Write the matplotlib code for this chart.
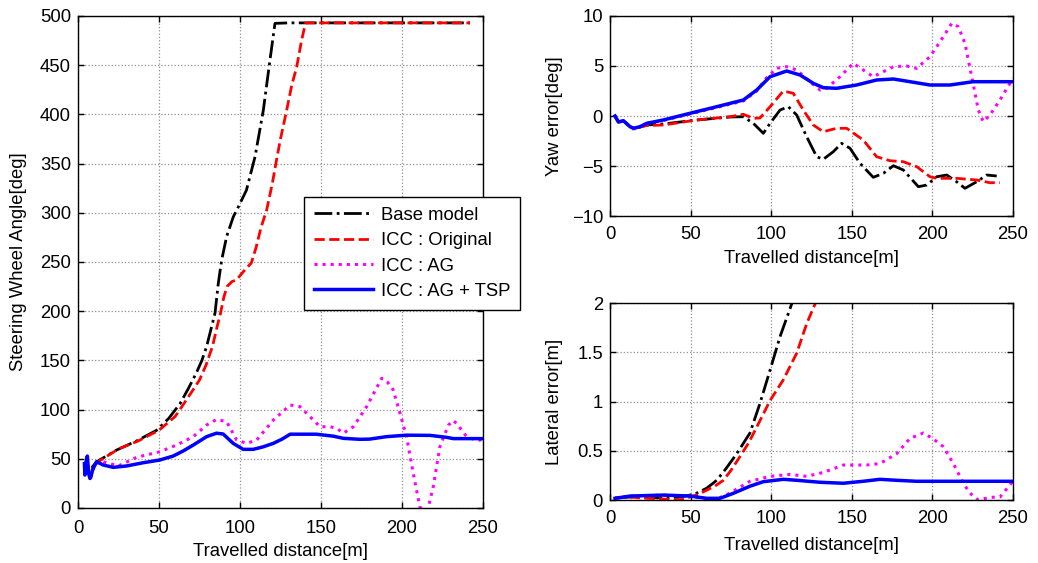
import matplotlib
matplotlib.use("Agg")
import matplotlib.pyplot as plt
from matplotlib.lines import Line2D

plt.rcParams['font.family'] = ['Liberation Sans', 'DejaVu Sans']

# ---------------- Steering wheel angle ----------------
sw_base_x = [4, 5, 6, 7, 8, 9, 11.5, 24, 36, 48.6, 56, 63, 68, 73, 76.5, 79.4, 82, 84.6, 86.6, 88.7, 91.8, 95.9, 99, 104, 109.3, 114.4, 118.5, 121.6, 130, 170, 210, 242]
sw_base = [40, 48, 44, 34, 38, 42, 47, 59, 68, 79, 91, 106, 121, 137, 150, 164, 181, 198, 228, 252, 276, 296, 306, 323, 357, 404, 455, 492.5, 493, 493, 493, 493]

sw_orig_x = [8, 9, 11.5, 25, 37, 50, 60, 67, 75, 79, 83, 86, 88, 90, 92, 95, 98, 102, 107, 110, 113, 116.5, 120, 122.6, 125, 128.8, 132, 135, 138, 140.5, 150, 200, 242]
sw_orig = [30, 40, 46, 60, 68, 79, 93, 110, 130, 145, 164, 185, 198, 214, 225, 230, 232, 240, 249, 265, 285, 303, 330, 354, 375, 404, 430, 448, 475, 493, 493, 493, 493]

sw_ag_x = [4, 4.5, 5.5, 6.5, 7.5, 9, 11.5, 15.6, 24.9, 36.2, 50.6, 60.9, 71.2, 79.4, 85.6, 91.8, 98, 104.1, 110.3, 120.6, 131, 137, 145.3, 149.4, 155.6, 159.7, 163.8, 170, 178.2, 187.5, 191, 194.6, 198.8, 202.8, 207, 211, 215, 219.3, 223.4, 228.6, 231.5, 233.7, 239.9, 244, 248, 250]
sw_ag = [33, 45, 52, 36, 30, 38, 46, 47, 42.7, 51.5, 57.2, 64, 72.5, 84.3, 90, 87.7, 69, 65.7, 69, 89.4, 104.7, 103, 89.4, 82.6, 82.6, 81, 76, 82.6, 103, 131.8, 128, 120, 96, 72.5, 35, 1.3, -8, 21.7, 62.3, 84, 89, 86, 72.5, 70, 69, 70]

sw_tsp_x = [4, 4.3, 5, 5.8, 6.6, 7.4, 8.2, 9, 11.5, 15.6, 21.8, 30, 40.3, 50.6, 58.8, 65, 71.2, 79.4, 85.5, 89.6, 95.8, 102, 108.2, 114, 120.6, 126, 131, 147, 157.6, 163.8, 174, 180, 190.5, 202.8, 217.3, 227.6, 231.7, 249]
sw_tsp = [45, 33.5, 45, 52.8, 35, 30, 33, 38.6, 47, 43.7, 41.3, 42.7, 46, 48.8, 52.8, 58, 64, 72.5, 76, 75.2, 65.7, 59.6, 59.6, 62, 65.7, 70, 75, 75, 73, 70.8, 69.8, 70, 72.5, 74, 73.8, 71.8, 70.5, 70.5]

# ---------------- Yaw error ----------------
yaw_base_x = [3.1, 5.2, 8.3, 12.4, 14.5, 18.6, 22.8, 33, 53.8, 74.4, 82.7, 88.9, 95.1, 99.3, 105.5, 110.6, 115.8, 122, 128.2, 132.3, 138.5, 143.7, 148.9, 155.1, 163.3, 169.6, 175.8, 182, 191.3, 196.5, 202.7, 208.9, 215, 220.2, 227.5, 233.7, 239.9]
yaw_base = [0, -0.6, -0.5, -1.0, -1.2, -1.1, -0.9, -0.8, -0.4, -0.1, -0.07, -0.73, -1.73, -0.73, 0.6, 0.93, 0.1, -2.07, -4.07, -4.33, -3.57, -2.73, -3.23, -4.73, -6.13, -5.73, -4.97, -5.4, -7.07, -6.9, -6.07, -5.9, -6.57, -7.23, -6.57, -5.9, -6.0]

yaw_orig_x = [3.1, 5.2, 8.3, 12.4, 14.5, 18.6, 22.8, 33, 53.8, 74.4, 82.7, 88.9, 93, 99.3, 107.5, 113.7, 119.9, 126.1, 132.3, 140.6, 146.8, 157.1, 165.4, 173.7, 182, 190.3, 198.5, 202.7, 215, 227.5, 235.7, 241.9]
yaw_orig = [0, -0.6, -0.5, -1.05, -1.2, -1.1, -0.95, -0.9, -0.4, -0.07, 0.17, -0.23, -0.2, 0.93, 2.5, 2.27, 0.6, -0.9, -1.57, -1.23, -1.23, -2.4, -4.07, -4.47, -4.57, -5.07, -6.07, -6.23, -6.23, -6.4, -6.67, -6.67]

yaw_ag_x = [3.1, 5.2, 8.3, 12.4, 14.5, 18.6, 22.8, 33, 49.6, 66.2, 82.7, 91, 97, 103.4, 109.6, 115.9, 124, 130.3, 134.4, 142.7, 150.9, 157.1, 163.3, 175.8, 184, 190.3, 198.5, 206.8, 212, 216.1, 220.2, 224.4, 228.5, 231.6, 235.7, 241.9, 250]
yaw_ag = [0, -0.6, -0.47, -1.07, -1.3, -1.1, -0.75, -0.45, 0.2, 0.85, 1.5, 2.5, 3.8, 4.77, 4.93, 4.6, 3.43, 2.6, 2.77, 3.93, 5.27, 4.6, 3.93, 4.93, 5.0, 4.77, 5.93, 7.93, 9.27, 8.93, 7.27, 3.93, 0.6, -0.57, 0.1, 1.6, 3.77]

yaw_tsp_x = [3.1, 5.2, 8.3, 12.4, 14.5, 18.6, 22.8, 33, 49.6, 66.2, 82.7, 91, 99.3, 109.6, 117.9, 126.1, 132.3, 140.6, 153, 165.4, 175.8, 186.1, 198.5, 210.9, 225.4, 249.2]
yaw_tsp = [0, -0.6, -0.47, -1.07, -1.23, -1.07, -0.73, -0.4, 0.27, 0.93, 1.6, 2.6, 3.93, 4.5, 4.1, 3.27, 2.83, 2.77, 3.1, 3.6, 3.7, 3.43, 3.1, 3.1, 3.43, 3.43]

# ---------------- Lateral error ----------------
lat_base_x = [3.1, 12.4, 33, 43.4, 49.6, 53.8, 60, 66.2, 72, 78.6, 86.8, 93, 99.3, 105.5, 112.7, 116]
lat_base = [0.02, 0.03, 0.02, 0.03, 0.05, 0.07, 0.12, 0.2, 0.32, 0.47, 0.68, 0.98, 1.32, 1.66, 1.99, 2.2]

lat_orig_x = [3.1, 12.4, 20, 33, 43.4, 49.6, 55, 60, 65, 70.3, 75, 80.6, 86, 91, 99.3, 107.5, 115.8, 122, 127.2, 130]
lat_orig = [0.02, 0.03, 0.02, 0.01, 0.0, 0.03, 0.06, 0.1, 0.14, 0.2, 0.3, 0.44, 0.58, 0.74, 1.01, 1.22, 1.49, 1.79, 1.99, 2.2]

lat_ag_x = [3.1, 12.4, 33, 49.6, 56, 62, 66.2, 74.4, 86.8, 99.3, 111.7, 122, 132.3, 144.7, 159.2, 167.5, 177.8, 186.1, 194.4, 200.6, 206.8, 213, 219.2, 223.3, 228.5, 235.7, 241.9, 250]
lat_ag = [0.017, 0.04, 0.05, 0.04, 0.02, 0.0, 0.01, 0.07, 0.19, 0.24, 0.26, 0.24, 0.28, 0.355, 0.355, 0.37, 0.47, 0.625, 0.68, 0.62, 0.54, 0.37, 0.17, 0.07, 0.0, 0.027, 0.03, 0.19]

lat_tsp_x = [3.1, 12.4, 33, 49.6, 60, 68.2, 76.5, 86.8, 95.1, 107.5, 115.8, 130.3, 144.7, 157.1, 167.5, 177.8, 190.3, 250]
lat_tsp = [0.017, 0.04, 0.05, 0.04, 0.017, 0.017, 0.068, 0.14, 0.186, 0.21, 0.2, 0.18, 0.17, 0.19, 0.21, 0.2, 0.19, 0.19]

labels = ['Base model', 'ICC : Original', 'ICC : AG', 'ICC : AG + TSP']
colors = ['black', '#ff0000', '#ff00ff', '#0000ff']
styles = ['-.', '--', ':', '-']
widths = [2, 2, 2.2, 2.5]

FS = 13.3

fig = plt.figure(figsize=(10.38, 5.63), dpi=100)
ax1 = fig.add_axes([0.0751, 0.0977, 0.3902, 0.8739])
ax2 = fig.add_axes([0.5877, 0.6163, 0.3882, 0.3553])
ax3 = fig.add_axes([0.5877, 0.1119, 0.3882, 0.3499])


def style(ax, xlim, ylim, yticks, ylabel, ylab_x, xlab_y, xpad):
    ax.set_xlim(*xlim)
    ax.set_ylim(*ylim)
    ax.set_xticks([0, 50, 100, 150, 200, 250])
    ax.set_yticks(yticks)
    ax.grid(True, linestyle=':', color='#909090', linewidth=0.9)
    ax.tick_params(direction='in', top=True, right=True, labelsize=FS, length=4, width=1)
    ax.tick_params(axis='x', pad=xpad)
    ax.tick_params(axis='y', pad=5)
    for s in ax.spines.values():
        s.set_linewidth(1)
    ax.set_xlabel('Travelled distance[m]', fontsize=FS)
    ax.set_ylabel(ylabel, fontsize=FS)
    ax.yaxis.set_label_coords(ylab_x, 0.5)
    ax.xaxis.set_label_coords(0.5, xlab_y)


series1 = [(sw_base_x, sw_base), (sw_orig_x, sw_orig), (sw_ag_x, sw_ag), (sw_tsp_x, sw_tsp)]
series2 = [(yaw_base_x, yaw_base), (yaw_orig_x, yaw_orig), (yaw_ag_x, yaw_ag), (yaw_tsp_x, yaw_tsp)]
series3 = [(lat_base_x, lat_base), (lat_orig_x, lat_orig), (lat_ag_x, lat_ag), (lat_tsp_x, lat_tsp)]

for ax, ser in [(ax1, series1), (ax2, series2), (ax3, series3)]:
    for (x, y), c, ls, lw, lab in zip(ser, colors, styles, widths, labels):
        ax.plot(x, y, color=c, linestyle=ls, linewidth=lw, label=lab)

style(ax1, (0, 250), (0, 500), list(range(0, 501, 50)), 'Steering Wheel Angle[deg]', -0.126, -0.072, 8.5)
style(ax2, (0, 250), (-10, 10), [-10, -5, 0, 5, 10], 'Yaw error[deg]', -0.1166, -0.17, 7)
style(ax3, (0, 250), (0, 2), [0, 0.5, 1, 1.5, 2], 'Lateral error[m]', -0.1166, -0.19, 7.5)
ax3.set_yticklabels(['0', '0.5', '1', '1.5', '2'])

handles = [Line2D([], [], color=c, linestyle=ls, linewidth=lw) for c, ls, lw in zip(colors, styles, widths)]
leg = fig.legend(handles, labels, loc='upper left', bbox_to_anchor=(0.2929, 0.6505),
                 borderaxespad=0, fontsize=FS, frameon=True, fancybox=False,
                 edgecolor='black', framealpha=1, handlelength=3.2, labelspacing=0.45,
                 borderpad=0.55, handletextpad=0.4)
leg.get_frame().set_linewidth(1)
leg.set_zorder(10)

fig.savefig('out.png', dpi=100)
